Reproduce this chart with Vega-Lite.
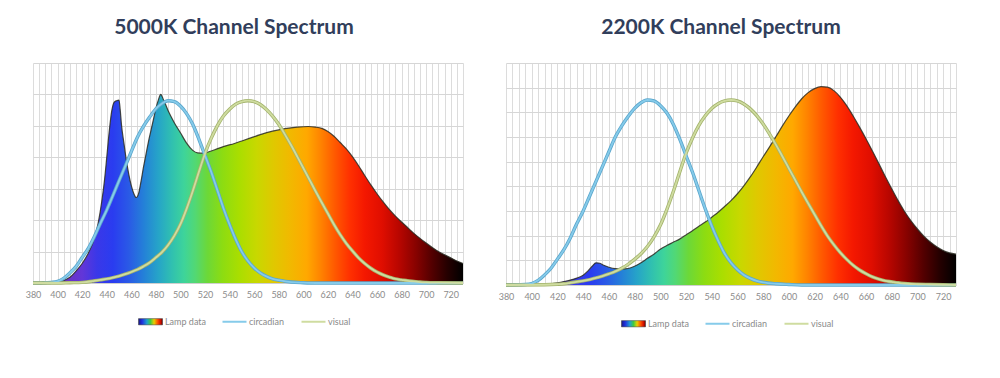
{
  "$schema": "https://vega.github.io/schema/vega-lite/v6.json",
  "background": "#ffffff",
  "padding": {"left": 25, "top": 17, "right": 5, "bottom": 5},
  "bounds": "flush",
  "spacing": 43,
  "config": {
    "view": {"stroke": null},
    "font": "Lato",
    "title": {"font": "Lato", "fontSize": 21, "fontWeight": "bold", "color": "#313e5b", "offset": 25, "anchor": "middle"},
    "legend": {"layout": {"bottom": {"anchor": "middle", "direction": "horizontal"}}}
  },
  "resolve": {"scale": {"x": "independent", "y": "independent", "color": "independent"}, "legend": {"color": "independent"}},
  "datasets": {
    "lamp5000": [
      {"nm":380,"v":0},{"nm":390,"v":0.01},{"nm":400,"v":0.03},{"nm":405,"v":0.08},{"nm":410,"v":0.18},{"nm":415,"v":0.38},{"nm":420,"v":0.62},{"nm":425,"v":0.95},{"nm":430,"v":1.43},{"nm":433,"v":1.9},{"nm":436,"v":2.6},{"nm":438,"v":3.2},{"nm":440,"v":3.98},{"nm":442,"v":4.8},{"nm":444,"v":5.45},{"nm":446,"v":5.75},{"nm":448,"v":5.8},{"nm":450,"v":5.82},{"nm":451,"v":5.5},{"nm":452,"v":5.04},{"nm":454,"v":4.45},{"nm":456,"v":3.9},{"nm":458,"v":3.45},{"nm":460,"v":3.1},{"nm":462,"v":2.85},{"nm":464,"v":2.72},{"nm":466,"v":2.85},{"nm":468,"v":3.25},{"nm":470,"v":3.7},{"nm":472,"v":4.1},{"nm":474,"v":4.5},{"nm":476,"v":4.85},{"nm":478,"v":5.2},{"nm":480,"v":5.55},{"nm":482,"v":5.82},{"nm":484,"v":6.0},{"nm":486,"v":5.85},{"nm":488,"v":5.67},{"nm":490,"v":5.48},{"nm":492,"v":5.32},{"nm":495,"v":5.1},{"nm":500,"v":4.78},{"nm":505,"v":4.45},{"nm":510,"v":4.22},{"nm":514,"v":4.14},{"nm":518,"v":4.13},{"nm":522,"v":4.16},{"nm":528,"v":4.24},{"nm":535,"v":4.34},{"nm":544,"v":4.44},{"nm":550,"v":4.52},{"nm":556,"v":4.6},{"nm":565,"v":4.72},{"nm":575,"v":4.83},{"nm":585,"v":4.91},{"nm":595,"v":4.96},{"nm":604,"v":4.98},{"nm":610,"v":4.96},{"nm":615,"v":4.92},{"nm":620,"v":4.82},{"nm":625,"v":4.67},{"nm":630,"v":4.47},{"nm":635,"v":4.27},{"nm":640,"v":4.02},{"nm":645,"v":3.73},{"nm":650,"v":3.42},{"nm":655,"v":3.12},{"nm":660,"v":2.84},{"nm":665,"v":2.58},{"nm":670,"v":2.34},{"nm":675,"v":2.13},{"nm":680,"v":1.94},{"nm":685,"v":1.76},{"nm":690,"v":1.58},{"nm":695,"v":1.42},{"nm":700,"v":1.27},{"nm":705,"v":1.13},{"nm":710,"v":1.0},{"nm":715,"v":0.9},{"nm":720,"v":0.8},{"nm":725,"v":0.7},{"nm":730,"v":0.62}
    ],
    "lines5000": [
      {"nm":380,"v":0,"s":"circadian"},{"nm":385,"v":0,"s":"circadian"},{"nm":390,"v":0.01,"s":"circadian"},{"nm":395,"v":0.02,"s":"circadian"},{"nm":400,"v":0.05,"s":"circadian"},{"nm":405,"v":0.15,"s":"circadian"},{"nm":410,"v":0.32,"s":"circadian"},{"nm":415,"v":0.52,"s":"circadian"},{"nm":420,"v":0.81,"s":"circadian"},{"nm":425,"v":1.1,"s":"circadian"},{"nm":430,"v":1.48,"s":"circadian"},{"nm":435,"v":1.91,"s":"circadian"},{"nm":440,"v":2.32,"s":"circadian"},{"nm":445,"v":2.78,"s":"circadian"},{"nm":450,"v":3.25,"s":"circadian"},{"nm":455,"v":3.71,"s":"circadian"},{"nm":460,"v":4.18,"s":"circadian"},{"nm":465,"v":4.64,"s":"circadian"},{"nm":470,"v":4.99,"s":"circadian"},{"nm":475,"v":5.28,"s":"circadian"},{"nm":480,"v":5.54,"s":"circadian"},{"nm":485,"v":5.71,"s":"circadian"},{"nm":490,"v":5.8,"s":"circadian"},{"nm":495,"v":5.77,"s":"circadian"},{"nm":500,"v":5.63,"s":"circadian"},{"nm":505,"v":5.39,"s":"circadian"},{"nm":510,"v":5.05,"s":"circadian"},{"nm":515,"v":4.58,"s":"circadian"},{"nm":520,"v":4.06,"s":"circadian"},{"nm":525,"v":3.54,"s":"circadian"},{"nm":530,"v":2.96,"s":"circadian"},{"nm":535,"v":2.38,"s":"circadian"},{"nm":540,"v":1.86,"s":"circadian"},{"nm":545,"v":1.39,"s":"circadian"},{"nm":550,"v":0.99,"s":"circadian"},{"nm":555,"v":0.7,"s":"circadian"},{"nm":560,"v":0.48,"s":"circadian"},{"nm":565,"v":0.32,"s":"circadian"},{"nm":570,"v":0.21,"s":"circadian"},{"nm":575,"v":0.13,"s":"circadian"},{"nm":580,"v":0.09,"s":"circadian"},{"nm":590,"v":0.03,"s":"circadian"},{"nm":600,"v":0.01,"s":"circadian"},{"nm":610,"v":0,"s":"circadian"},{"nm":730,"v":0,"s":"circadian"},
      {"nm":380,"v":0,"s":"visual"},{"nm":400,"v":0,"s":"visual"},{"nm":410,"v":0.01,"s":"visual"},{"nm":420,"v":0.02,"s":"visual"},{"nm":425,"v":0.04,"s":"visual"},{"nm":430,"v":0.07,"s":"visual"},{"nm":435,"v":0.1,"s":"visual"},{"nm":440,"v":0.13,"s":"visual"},{"nm":445,"v":0.17,"s":"visual"},{"nm":450,"v":0.22,"s":"visual"},{"nm":455,"v":0.28,"s":"visual"},{"nm":460,"v":0.35,"s":"visual"},{"nm":465,"v":0.43,"s":"visual"},{"nm":470,"v":0.53,"s":"visual"},{"nm":475,"v":0.65,"s":"visual"},{"nm":480,"v":0.81,"s":"visual"},{"nm":485,"v":0.98,"s":"visual"},{"nm":490,"v":1.21,"s":"visual"},{"nm":495,"v":1.5,"s":"visual"},{"nm":500,"v":1.87,"s":"visual"},{"nm":505,"v":2.36,"s":"visual"},{"nm":510,"v":2.92,"s":"visual"},{"nm":515,"v":3.53,"s":"visual"},{"nm":520,"v":4.12,"s":"visual"},{"nm":525,"v":4.6,"s":"visual"},{"nm":530,"v":5.0,"s":"visual"},{"nm":535,"v":5.31,"s":"visual"},{"nm":540,"v":5.53,"s":"visual"},{"nm":545,"v":5.69,"s":"visual"},{"nm":550,"v":5.77,"s":"visual"},{"nm":555,"v":5.8,"s":"visual"},{"nm":560,"v":5.77,"s":"visual"},{"nm":565,"v":5.68,"s":"visual"},{"nm":570,"v":5.52,"s":"visual"},{"nm":575,"v":5.31,"s":"visual"},{"nm":580,"v":5.05,"s":"visual"},{"nm":585,"v":4.73,"s":"visual"},{"nm":590,"v":4.39,"s":"visual"},{"nm":595,"v":4.03,"s":"visual"},{"nm":600,"v":3.66,"s":"visual"},{"nm":605,"v":3.29,"s":"visual"},{"nm":610,"v":2.92,"s":"visual"},{"nm":615,"v":2.56,"s":"visual"},{"nm":620,"v":2.21,"s":"visual"},{"nm":625,"v":1.86,"s":"visual"},{"nm":630,"v":1.54,"s":"visual"},{"nm":635,"v":1.26,"s":"visual"},{"nm":640,"v":1.02,"s":"visual"},{"nm":645,"v":0.8,"s":"visual"},{"nm":650,"v":0.62,"s":"visual"},{"nm":655,"v":0.47,"s":"visual"},{"nm":660,"v":0.35,"s":"visual"},{"nm":665,"v":0.26,"s":"visual"},{"nm":670,"v":0.19,"s":"visual"},{"nm":675,"v":0.13,"s":"visual"},{"nm":680,"v":0.1,"s":"visual"},{"nm":685,"v":0.07,"s":"visual"},{"nm":690,"v":0.05,"s":"visual"},{"nm":695,"v":0.03,"s":"visual"},{"nm":700,"v":0.02,"s":"visual"},{"nm":710,"v":0.01,"s":"visual"},{"nm":730,"v":0,"s":"visual"}
    ],
    "lamp2200": [
      {"nm":380,"v":0},{"nm":400,"v":0},{"nm":405,"v":0.01},{"nm":410,"v":0.03},{"nm":415,"v":0.05},{"nm":420,"v":0.09},{"nm":425,"v":0.14},{"nm":430,"v":0.2},{"nm":435,"v":0.28},{"nm":440,"v":0.4},{"nm":444,"v":0.58},{"nm":447,"v":0.76},{"nm":450,"v":0.9},{"nm":453,"v":0.88},{"nm":456,"v":0.8},{"nm":460,"v":0.72},{"nm":465,"v":0.66},{"nm":470,"v":0.65},{"nm":475,"v":0.67},{"nm":480,"v":0.76},{"nm":485,"v":0.9},{"nm":490,"v":1.08},{"nm":495,"v":1.25},{"nm":500,"v":1.45},{"nm":505,"v":1.6},{"nm":510,"v":1.73},{"nm":515,"v":1.86},{"nm":520,"v":2.03},{"nm":525,"v":2.2},{"nm":530,"v":2.38},{"nm":535,"v":2.55},{"nm":540,"v":2.75},{"nm":545,"v":2.95},{"nm":550,"v":3.18},{"nm":555,"v":3.42},{"nm":560,"v":3.7},{"nm":565,"v":4.02},{"nm":570,"v":4.38},{"nm":575,"v":4.78},{"nm":580,"v":5.2},{"nm":585,"v":5.6},{"nm":590,"v":6.02},{"nm":595,"v":6.45},{"nm":600,"v":6.85},{"nm":605,"v":7.22},{"nm":610,"v":7.55},{"nm":615,"v":7.8},{"nm":620,"v":7.96},{"nm":625,"v":8.04},{"nm":630,"v":8.02},{"nm":635,"v":7.88},{"nm":640,"v":7.62},{"nm":645,"v":7.27},{"nm":650,"v":6.85},{"nm":655,"v":6.4},{"nm":660,"v":5.93},{"nm":665,"v":5.43},{"nm":670,"v":4.92},{"nm":675,"v":4.4},{"nm":680,"v":3.9},{"nm":685,"v":3.42},{"nm":690,"v":2.98},{"nm":695,"v":2.6},{"nm":700,"v":2.27},{"nm":705,"v":1.98},{"nm":710,"v":1.74},{"nm":715,"v":1.55},{"nm":720,"v":1.4},{"nm":725,"v":1.3},{"nm":730,"v":1.25}
    ],
    "lines2200": [
      {"nm":380,"v":0,"s":"circadian"},{"nm":390,"v":0.01,"s":"circadian"},{"nm":395,"v":0.02,"s":"circadian"},{"nm":400,"v":0.06,"s":"circadian"},{"nm":405,"v":0.19,"s":"circadian"},{"nm":410,"v":0.41,"s":"circadian"},{"nm":415,"v":0.68,"s":"circadian"},{"nm":420,"v":1.05,"s":"circadian"},{"nm":425,"v":1.43,"s":"circadian"},{"nm":430,"v":1.91,"s":"circadian"},{"nm":435,"v":2.48,"s":"circadian"},{"nm":440,"v":3.0,"s":"circadian"},{"nm":445,"v":3.6,"s":"circadian"},{"nm":450,"v":4.2,"s":"circadian"},{"nm":455,"v":4.8,"s":"circadian"},{"nm":460,"v":5.4,"s":"circadian"},{"nm":465,"v":6.0,"s":"circadian"},{"nm":470,"v":6.45,"s":"circadian"},{"nm":475,"v":6.83,"s":"circadian"},{"nm":480,"v":7.16,"s":"circadian"},{"nm":485,"v":7.39,"s":"circadian"},{"nm":490,"v":7.5,"s":"circadian"},{"nm":495,"v":7.46,"s":"circadian"},{"nm":500,"v":7.28,"s":"circadian"},{"nm":505,"v":6.98,"s":"circadian"},{"nm":510,"v":6.53,"s":"circadian"},{"nm":515,"v":5.93,"s":"circadian"},{"nm":520,"v":5.25,"s":"circadian"},{"nm":525,"v":4.58,"s":"circadian"},{"nm":530,"v":3.83,"s":"circadian"},{"nm":535,"v":3.08,"s":"circadian"},{"nm":540,"v":2.4,"s":"circadian"},{"nm":545,"v":1.8,"s":"circadian"},{"nm":550,"v":1.28,"s":"circadian"},{"nm":555,"v":0.9,"s":"circadian"},{"nm":560,"v":0.62,"s":"circadian"},{"nm":565,"v":0.41,"s":"circadian"},{"nm":570,"v":0.27,"s":"circadian"},{"nm":575,"v":0.17,"s":"circadian"},{"nm":580,"v":0.11,"s":"circadian"},{"nm":590,"v":0.05,"s":"circadian"},{"nm":600,"v":0.02,"s":"circadian"},{"nm":610,"v":0,"s":"circadian"},{"nm":730,"v":0,"s":"circadian"},
      {"nm":380,"v":0,"s":"visual"},{"nm":410,"v":0.01,"s":"visual"},{"nm":420,"v":0.03,"s":"visual"},{"nm":425,"v":0.05,"s":"visual"},{"nm":430,"v":0.09,"s":"visual"},{"nm":435,"v":0.13,"s":"visual"},{"nm":440,"v":0.17,"s":"visual"},{"nm":445,"v":0.22,"s":"visual"},{"nm":450,"v":0.29,"s":"visual"},{"nm":455,"v":0.36,"s":"visual"},{"nm":460,"v":0.45,"s":"visual"},{"nm":465,"v":0.55,"s":"visual"},{"nm":470,"v":0.68,"s":"visual"},{"nm":475,"v":0.84,"s":"visual"},{"nm":480,"v":1.04,"s":"visual"},{"nm":485,"v":1.27,"s":"visual"},{"nm":490,"v":1.56,"s":"visual"},{"nm":495,"v":1.94,"s":"visual"},{"nm":500,"v":2.42,"s":"visual"},{"nm":505,"v":3.05,"s":"visual"},{"nm":510,"v":3.77,"s":"visual"},{"nm":515,"v":4.56,"s":"visual"},{"nm":520,"v":5.33,"s":"visual"},{"nm":525,"v":5.95,"s":"visual"},{"nm":530,"v":6.47,"s":"visual"},{"nm":535,"v":6.86,"s":"visual"},{"nm":540,"v":7.16,"s":"visual"},{"nm":545,"v":7.35,"s":"visual"},{"nm":550,"v":7.46,"s":"visual"},{"nm":555,"v":7.5,"s":"visual"},{"nm":560,"v":7.46,"s":"visual"},{"nm":565,"v":7.34,"s":"visual"},{"nm":570,"v":7.14,"s":"visual"},{"nm":575,"v":6.87,"s":"visual"},{"nm":580,"v":6.53,"s":"visual"},{"nm":585,"v":6.12,"s":"visual"},{"nm":590,"v":5.68,"s":"visual"},{"nm":595,"v":5.21,"s":"visual"},{"nm":600,"v":4.73,"s":"visual"},{"nm":605,"v":4.25,"s":"visual"},{"nm":610,"v":3.77,"s":"visual"},{"nm":615,"v":3.31,"s":"visual"},{"nm":620,"v":2.86,"s":"visual"},{"nm":625,"v":2.41,"s":"visual"},{"nm":630,"v":1.99,"s":"visual"},{"nm":635,"v":1.63,"s":"visual"},{"nm":640,"v":1.31,"s":"visual"},{"nm":645,"v":1.04,"s":"visual"},{"nm":650,"v":0.8,"s":"visual"},{"nm":655,"v":0.61,"s":"visual"},{"nm":660,"v":0.46,"s":"visual"},{"nm":665,"v":0.33,"s":"visual"},{"nm":670,"v":0.24,"s":"visual"},{"nm":675,"v":0.17,"s":"visual"},{"nm":680,"v":0.13,"s":"visual"},{"nm":685,"v":0.09,"s":"visual"},{"nm":690,"v":0.06,"s":"visual"},{"nm":695,"v":0.04,"s":"visual"},{"nm":700,"v":0.03,"s":"visual"},{"nm":710,"v":0.02,"s":"visual"},{"nm":720,"v":0.01,"s":"visual"},{"nm":730,"v":0,"s":"visual"}
    ]
  },
  "hconcat": [
    {
      "width": 430,
      "height": 220,
      "title": {"text": "5000K Channel Spectrum", "dx": -14},
      "encoding": {
        "x": {"field": "nm", "type": "quantitative", "scale": {"domain": [380, 730], "nice": false, "zero": false},
          "axis": {"title": null, "values": [380,385,390,395,400,405,410,415,420,425,430,435,440,445,450,455,460,465,470,475,480,485,490,495,500,505,510,515,520,525,530,535,540,545,550,555,560,565,570,575,580,585,590,595,600,605,610,615,620,625,630,635,640,645,650,655,660,665,670,675,680,685,690,695,700,705,710,715,720,725,730],
            "labelExpr": "datum.value % 20 === 0 ? datum.label : ''", "labelOverlap": false, "labelFlush": false, "ticks": false, "domainColor": "#cfcfcf", "gridColor": "#dcdcdc", "labelFontSize": 9, "labelColor": "#8c8c8c", "labelFont": "Lato", "labelPadding": 7}},
        "y": {"field": "v", "type": "quantitative", "scale": {"domain": [0, 7], "nice": false},
          "axis": {"title": null, "values": [0,1,2,3,4,5,6,7], "labels": false, "ticks": false, "domain": false, "gridColor": "#d6d6d6"}}
      },
      "layer": [
        {"data": {"name": "lamp5000"}, "mark": {"type": "area", "interpolate": "monotone", "color": {"gradient": "linear", "x1": 0, "y1": 0, "x2": 1, "y2": 0, "stops": [
          {"offset": 0, "color": "#4a2a8a"},{"offset": 0.0714, "color": "#6a30c0"},{"offset": 0.1143, "color": "#6236d8"},{"offset": 0.1486, "color": "#3a38e8"},{"offset": 0.1857, "color": "#2a3cf0"},{"offset": 0.2229, "color": "#2a5ae6"},{"offset": 0.2571, "color": "#2480d8"},{"offset": 0.2914, "color": "#26a4c8"},{"offset": 0.3229, "color": "#30c0b0"},{"offset": 0.3514, "color": "#3ed49a"},{"offset": 0.3771, "color": "#52d874"},{"offset": 0.4057, "color": "#6cd838"},{"offset": 0.44, "color": "#8cdc12"},{"offset": 0.48, "color": "#aade00"},{"offset": 0.52, "color": "#c8d800"},{"offset": 0.56, "color": "#e0c800"},{"offset": 0.6, "color": "#f2b800"},{"offset": 0.6371, "color": "#ffa800"},{"offset": 0.6686, "color": "#ff8400"},{"offset": 0.7029, "color": "#ff5800"},{"offset": 0.7371, "color": "#ff3000"},{"offset": 0.7714, "color": "#f41800"},{"offset": 0.8114, "color": "#e00e00"},{"offset": 0.8514, "color": "#b80600"},{"offset": 0.8914, "color": "#860200"},{"offset": 0.9286, "color": "#520000"},{"offset": 0.9629, "color": "#260000"},{"offset": 1, "color": "#000000"}]}}},
        {"data": {"name": "lamp5000"}, "mark": {"type": "line", "interpolate": "monotone", "color": "#2b2b22", "strokeWidth": 1.2, "opacity": 0.85}},
        {"data": {"name": "lines5000"}, "mark": {"type": "line", "interpolate": "monotone", "strokeWidth": 3.4},
          "encoding": {"detail": {"field": "s"}, "color": {"condition": {"test": "datum.s === 'circadian'", "value": "#5aa6cc"}, "value": "#a3b36c"}}},
        {"data": {"name": "lines5000"}, "mark": {"type": "line", "interpolate": "monotone", "strokeWidth": 1.8},
          "encoding": {"color": {"field": "s", "type": "nominal", "scale": {"domain": ["Lamp data", "circadian", "visual"], "range": ["#333333", "#86cbea", "#cfdca0"]},
            "legend": {"orient": "bottom", "direction": "horizontal", "title": null, "labelFontSize": 9, "labelColor": "#8a8a8a", "labelFont": "Lato", "symbolSize": 576, "symbolStrokeWidth": 2, "columnPadding": 12, "labelOffset": 10, "offset": 18, "padding": 0,
              "encode": {"symbols": {"update": {
                "shape": {"signal": "datum.value === 'Lamp data' ? 'M-1,-0.26H1V0.26H-1Z' : 'stroke'"},
                "fill": {"signal": "datum.value === 'Lamp data' ? {gradient: 'linear', x1: 0, y1: 0, x2: 1, y2: 0, stops: [{offset: 0, color: '#1a1a80'}, {offset: 0.15, color: '#2030e0'}, {offset: 0.35, color: '#20a0d0'}, {offset: 0.5, color: '#40cc40'}, {offset: 0.65, color: '#e8d000'}, {offset: 0.8, color: '#ff5000'}, {offset: 0.92, color: '#d01000'}, {offset: 1, color: '#600000'}]} : 'transparent'"},
                "stroke": {"signal": "datum.value === 'Lamp data' ? '#555555' : (datum.value === 'circadian' ? '#86cbea' : '#c6d494')"},
                "strokeWidth": {"signal": "datum.value === 'Lamp data' ? 0.5 : 2"}
              }}}}}}}
      ]
    },
    {
      "width": 450,
      "height": 222,
      "title": {"text": "2200K Channel Spectrum", "dx": -10},
      "encoding": {
        "x": {"field": "nm", "type": "quantitative", "scale": {"domain": [380, 730], "nice": false, "zero": false},
          "axis": {"title": null, "values": [380,385,390,395,400,405,410,415,420,425,430,435,440,445,450,455,460,465,470,475,480,485,490,495,500,505,510,515,520,525,530,535,540,545,550,555,560,565,570,575,580,585,590,595,600,605,610,615,620,625,630,635,640,645,650,655,660,665,670,675,680,685,690,695,700,705,710,715,720,725,730],
            "labelExpr": "datum.value % 20 === 0 ? datum.label : ''", "labelOverlap": false, "labelFlush": false, "ticks": false, "domainColor": "#cfcfcf", "gridColor": "#dcdcdc", "labelFontSize": 9, "labelColor": "#8c8c8c", "labelFont": "Lato", "labelPadding": 7}},
        "y": {"field": "v", "type": "quantitative", "scale": {"domain": [0, 9], "nice": false},
          "axis": {"title": null, "values": [0,1,2,3,4,5,6,7,8,9], "labels": false, "ticks": false, "domain": false, "gridColor": "#d6d6d6"}}
      },
      "layer": [
        {"data": {"name": "lamp2200"}, "mark": {"type": "area", "interpolate": "monotone", "color": {"gradient": "linear", "x1": 0, "y1": 0, "x2": 1, "y2": 0, "stops": [
          {"offset": 0, "color": "#4a2a8a"},{"offset": 0.0714, "color": "#6a30c0"},{"offset": 0.1143, "color": "#6236d8"},{"offset": 0.1486, "color": "#3a38e8"},{"offset": 0.1857, "color": "#2a3cf0"},{"offset": 0.2229, "color": "#2a5ae6"},{"offset": 0.2571, "color": "#2480d8"},{"offset": 0.2914, "color": "#26a4c8"},{"offset": 0.3229, "color": "#30c0b0"},{"offset": 0.3514, "color": "#3ed49a"},{"offset": 0.3771, "color": "#52d874"},{"offset": 0.4057, "color": "#6cd838"},{"offset": 0.44, "color": "#8cdc12"},{"offset": 0.48, "color": "#aade00"},{"offset": 0.52, "color": "#c8d800"},{"offset": 0.56, "color": "#e0c800"},{"offset": 0.6, "color": "#f2b800"},{"offset": 0.6371, "color": "#ffa800"},{"offset": 0.6686, "color": "#ff8400"},{"offset": 0.7029, "color": "#ff5800"},{"offset": 0.7371, "color": "#ff3000"},{"offset": 0.7714, "color": "#f41800"},{"offset": 0.8114, "color": "#e00e00"},{"offset": 0.8514, "color": "#b80600"},{"offset": 0.8914, "color": "#860200"},{"offset": 0.9286, "color": "#520000"},{"offset": 0.9629, "color": "#260000"},{"offset": 1, "color": "#000000"}]}}},
        {"data": {"name": "lamp2200"}, "mark": {"type": "line", "interpolate": "monotone", "color": "#2b2b22", "strokeWidth": 1.2, "opacity": 0.85}},
        {"data": {"name": "lines2200"}, "mark": {"type": "line", "interpolate": "monotone", "strokeWidth": 3.4},
          "encoding": {"detail": {"field": "s"}, "color": {"condition": {"test": "datum.s === 'circadian'", "value": "#5aa6cc"}, "value": "#a3b36c"}}},
        {"data": {"name": "lines2200"}, "mark": {"type": "line", "interpolate": "monotone", "strokeWidth": 1.8},
          "encoding": {"color": {"field": "s", "type": "nominal", "scale": {"domain": ["Lamp data", "circadian", "visual"], "range": ["#333333", "#86cbea", "#cfdca0"]},
            "legend": {"orient": "bottom", "direction": "horizontal", "title": null, "labelFontSize": 9, "labelColor": "#8a8a8a", "labelFont": "Lato", "symbolSize": 576, "symbolStrokeWidth": 2, "columnPadding": 12, "labelOffset": 10, "offset": 18, "padding": 0,
              "encode": {"symbols": {"update": {
                "shape": {"signal": "datum.value === 'Lamp data' ? 'M-1,-0.26H1V0.26H-1Z' : 'stroke'"},
                "fill": {"signal": "datum.value === 'Lamp data' ? {gradient: 'linear', x1: 0, y1: 0, x2: 1, y2: 0, stops: [{offset: 0, color: '#1a1a80'}, {offset: 0.15, color: '#2030e0'}, {offset: 0.35, color: '#20a0d0'}, {offset: 0.5, color: '#40cc40'}, {offset: 0.65, color: '#e8d000'}, {offset: 0.8, color: '#ff5000'}, {offset: 0.92, color: '#d01000'}, {offset: 1, color: '#600000'}]} : 'transparent'"},
                "stroke": {"signal": "datum.value === 'Lamp data' ? '#555555' : (datum.value === 'circadian' ? '#86cbea' : '#c6d494')"},
                "strokeWidth": {"signal": "datum.value === 'Lamp data' ? 0.5 : 2"}
              }}}}}}}
      ]
    }
  ]
}
